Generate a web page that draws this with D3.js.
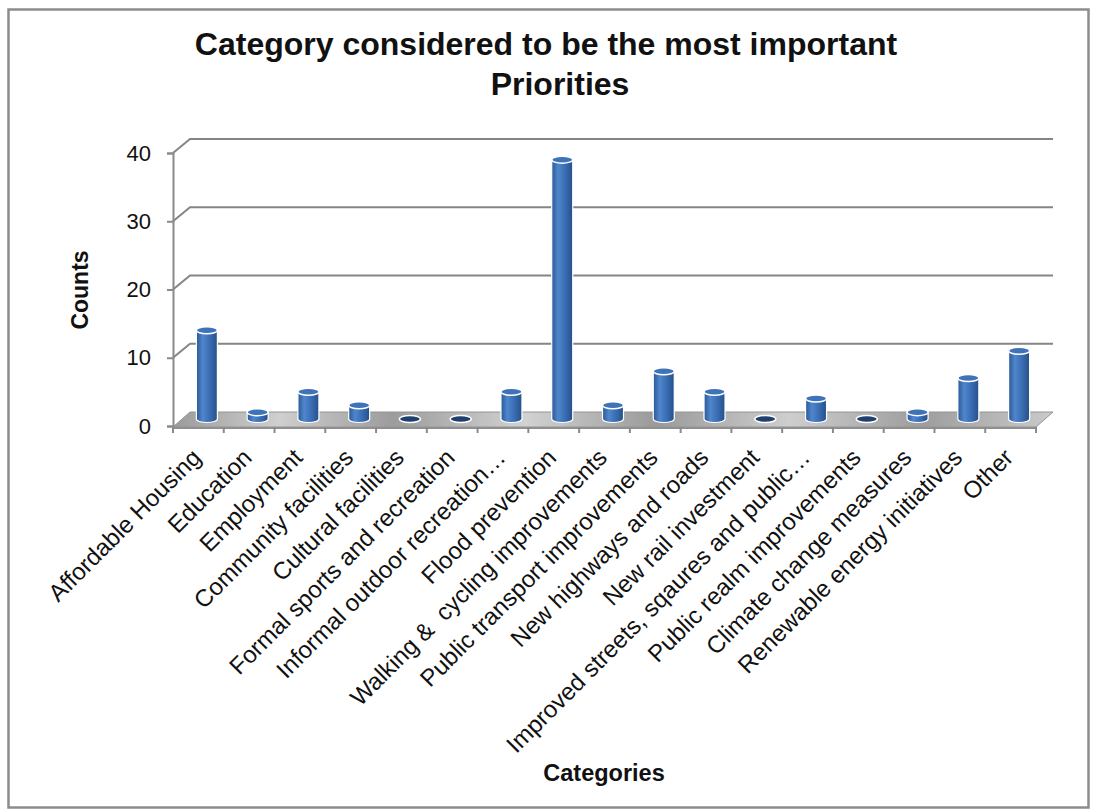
<!DOCTYPE html>
<html>
<head>
<meta charset="utf-8">
<script src="https://cdn.jsdelivr.net/npm/d3@7"></script>
<style>
  body { margin: 0; background: #fff; }
  svg { display: block; font-family: "Liberation Sans", Arial, sans-serif; }
</style>
</head>
<body>
<svg width="1096" height="812"></svg>
<script>
const categories = ['Affordable Housing', 'Education', 'Employment', 'Community facilities',
    'Cultural facilities', 'Formal sports and recreation', 'Informal outdoor recreation…',
    'Flood prevention', 'Walking &  cycling improvements', 'Public transport improvements',
    'New highways and roads', 'New rail investment', 'Improved streets, sqaures and public…',
    'Public realm improvements', 'Climate change measures', 'Renewable energy initiatives', 'Other'];
const counts = [13, 1, 4, 2, 0, 0, 4, 38, 2, 7, 4, 0, 3, 0, 1, 6, 10];
const yTicks = [0, 10, 20, 30, 40];

const svg = d3.select('svg');
const defs = svg.append('defs');

// depth of the 3d box
const dx = 17, dy = -14;

const x = d3.scaleBand().domain(categories).range([173, 1036]).padding(0);
const y = d3.scaleLinear().domain([0, 40]).range([426, 153]);
const x0 = x.range()[0], x1 = x.range()[1];

// chart frame
svg.append('rect')
    .attr('x', 8.5).attr('y', 9.5).attr('width', 1080).attr('height', 798)
    .attr('fill', 'none').attr('stroke', '#8c8c8c').attr('stroke-width', 2.5);

// gradients
const barGrad = defs.append('linearGradient').attr('id', 'barGrad')
    .attr('x1', 0).attr('x2', 1).attr('y1', 0).attr('y2', 0);
barGrad.append('stop').attr('offset', '0%').attr('stop-color', '#2a5894');
barGrad.append('stop').attr('offset', '30%').attr('stop-color', '#4f86cc');
barGrad.append('stop').attr('offset', '60%').attr('stop-color', '#3c70b6');
barGrad.append('stop').attr('offset', '100%').attr('stop-color', '#25508a');

const floorGrad = defs.append('linearGradient').attr('id', 'floorGrad')
    .attr('x1', 0).attr('x2', 1).attr('y1', 0).attr('y2', 0);
[['0%', '#9a9a9a'], ['12%', '#cfcfcf'], ['25%', '#9c9c9c'], ['40%', '#d2d2d2'], ['55%', '#9a9a9a'],
 ['70%', '#cecece'], ['85%', '#9d9d9d'], ['100%', '#cacaca']].forEach(s => {
    floorGrad.append('stop').attr('offset', s[0]).attr('stop-color', s[1]);
});

// gridlines on back wall + side connectors
const grid = svg.append('g');
yTicks.filter(t => t > 0).forEach(t => {
    grid.append('path')
        .attr('d', `M${x0},${y(t)} L${x0 + dx},${y(t) + dy} L${x1 + dx},${y(t) + dy}`)
        .attr('fill', 'none').attr('stroke', '#858585').attr('stroke-width', 2);
});

// floor
const y0 = y(0);
svg.append('path')
    .attr('d', `M${x0},${y0 + 1} L${x1},${y0 + 1} L${x1},${y0 + 3} L${x0},${y0 + 3} Z`)
    .attr('fill', '#8e8e8e');
svg.append('path')
    .attr('d', `M${x0},${y0 + 1} L${x0 + dx},${y0 + dy} L${x1 + dx},${y0 + dy} L${x1},${y0 + 1} Z`)
    .attr('fill', 'url(#floorGrad)').attr('stroke', '#949494').attr('stroke-width', 1);

// y axis
const yAxis = svg.append('g')
    .attr('transform', `translate(${x0},0)`)
    .call(d3.axisLeft(y).tickValues(yTicks).tickSize(6).tickPadding(16));
yAxis.select('.domain').attr('stroke', '#8a8a8a').attr('stroke-width', 2);
yAxis.selectAll('.tick line').attr('stroke', '#8a8a8a').attr('stroke-width', 2);
yAxis.selectAll('.tick text').attr('font-size', 22).attr('fill', '#111')
    .attr('font-family', '"Liberation Sans", Arial, sans-serif');

// category ticks between bands
const bounds = categories.map(c => x(c)).concat([x1]);
svg.append('g').selectAll('line').data(bounds).join('line')
    .attr('x1', d => d).attr('x2', d => d)
    .attr('y1', y0 + 1).attr('y2', y0 + 7)
    .attr('stroke', '#8a8a8a').attr('stroke-width', 2);

// bars (cylinders)
const r = 10.5, ry = 3.5;
const bars = svg.append('g').selectAll('g').data(categories).join('g');
bars.each(function (c, i) {
    const g = d3.select(this);
    const cx = x(c) + x.bandwidth() / 2 + dx / 2;
    const base = y(0) + dy / 2;
    const top = y(counts[i]) + dy / 2;
    if (counts[i] > 0) {
        g.append('path')
            .attr('d', `M${cx - r},${top} L${cx - r},${base} A${r},${ry} 0 0 0 ${cx + r},${base} L${cx + r},${top} Z`)
            .attr('fill', 'url(#barGrad)').attr('stroke', '#ffffff').attr('stroke-width', 1.2);
        g.append('ellipse')
            .attr('cx', cx).attr('cy', top).attr('rx', r).attr('ry', ry)
            .attr('fill', '#3f73b8').attr('stroke', '#ffffff').attr('stroke-width', 1.5);
    } else {
        g.append('ellipse')
            .attr('cx', cx).attr('cy', base).attr('rx', r).attr('ry', ry)
            .attr('fill', '#1f3f6e').attr('stroke', '#ffffff').attr('stroke-width', 1.5);
    }
});

// category labels
svg.append('g').selectAll('text').data(categories).join('text')
    .attr('transform', c => `translate(${x(c) + x.bandwidth() / 2 + 4},${y0 + 33}) rotate(-45)`)
    .attr('text-anchor', 'end')
    .attr('font-size', 24)
    .attr('fill', '#111')
    .style('white-space', 'pre')
    .text(c => c);

// titles
svg.append('text').attr('x', 546).attr('y', 55).attr('text-anchor', 'middle')
    .attr('font-size', 32).attr('font-weight', 'bold').attr('fill', '#111')
    .text('Category considered to be the most important');
svg.append('text').attr('x', 560).attr('y', 95).attr('text-anchor', 'middle')
    .attr('font-size', 32).attr('font-weight', 'bold').attr('fill', '#111')
    .text('Priorities');

svg.append('text')
    .attr('transform', 'translate(88,290) rotate(-90)')
    .attr('text-anchor', 'middle')
    .attr('font-size', 23).attr('font-weight', 'bold').attr('fill', '#111')
    .text('Counts');

svg.append('text').attr('x', 604).attr('y', 781).attr('text-anchor', 'middle')
    .attr('font-size', 23.5).attr('font-weight', 'bold').attr('fill', '#111')
    .text('Categories');
</script>
</body>
</html>
